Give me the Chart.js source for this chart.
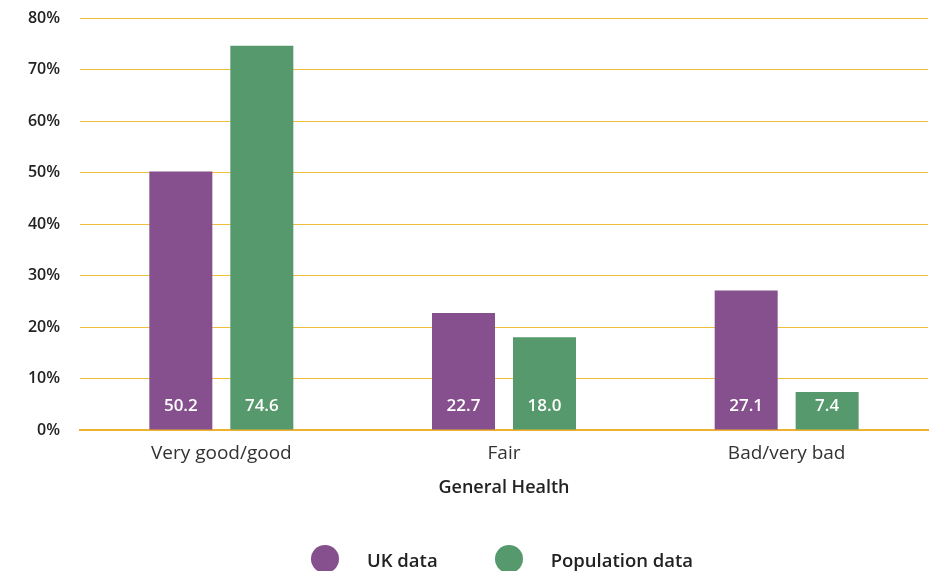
<!DOCTYPE html>
<html>
<head>
  <script src="https://cdn.jsdelivr.net/npm/chart.js"></script>
  <style>
    body { margin: 0; background: #fff; font-family: 'Open Sans', sans-serif; }
    .wrap { position: relative; width: 938px; height: 571px; overflow: hidden; }
    .legend { position: absolute; top: 545px; left: 311px; display: flex; align-items: center; }
    .legend-item { display: flex; align-items: center; font-weight: 600; font-size: 18.5px; color: #222; }
    .dot { width: 28px; height: 28px; border-radius: 50%; margin-right: 28px; }
  </style>
</head>
<body>
  <div class="wrap">
    <canvas id="chart" width="938" height="571"></canvas>
    <div class="legend" id="legend"></div>
  </div>
  <script>
    const categories = ['Very good/good', 'Fair', 'Bad/very bad'];
    const ukData = [50.2, 22.7, 27.1];
    const populationData = [74.6, 18.0, 7.4];
    const seriesNames = ['UK data', 'Population data'];
    const seriesColors = ['#864F8D', '#55996C'];

    // draws the value near the foot of each bar
    const barLabels = {
      id: 'barLabels',
      afterDatasetsDraw(chart) {
        const ctx = chart.ctx;
        ctx.save();
        ctx.fillStyle = '#fff';
        ctx.font = '600 17px "Open Sans"';
        ctx.textAlign = 'center';
        ctx.textBaseline = 'middle';
        chart.data.datasets.forEach((ds, i) => {
          chart.getDatasetMeta(i).data.forEach((bar, j) => {
            ctx.fillText(ds.data[j].toFixed(1), bar.x, bar.base - 23);
          });
        });
        ctx.restore();
      }
    };

    new Chart(document.getElementById('chart'), {
      type: 'bar',
      data: {
        labels: categories,
        datasets: [
          { label: seriesNames[0], data: ukData, backgroundColor: seriesColors[0] },
          { label: seriesNames[1], data: populationData, backgroundColor: seriesColors[1] }
        ]
      },
      options: {
        responsive: false,
        animation: false,
        categoryPercentage: 0.573,
        barPercentage: 0.778,
        layout: { padding: { top: 18, right: 10, bottom: 72, left: 0 } },
        plugins: { legend: { display: false }, tooltip: { enabled: false } },
        scales: {
          x: {
            grid: { display: false, drawTicks: false },
            border: { display: true, color: '#EFB22E', width: 2 },
            ticks: { color: '#333', font: { family: 'Open Sans', size: 19 }, padding: 12 },
            title: {
              display: true, text: 'General Health', color: '#222',
              font: { family: 'Open Sans', size: 18, weight: '600' },
              padding: { top: 0, bottom: 0 }
            },
            afterFit(scale) { scale.height = 69; }
          },
          y: {
            min: 0, max: 80,
            ticks: {
              stepSize: 10, padding: 3, color: '#222',
              font: { family: 'Open Sans', size: 16, weight: '600' },
              callback: v => v + '%'
            },
            grid: { drawTicks: true, tickLength: 17, tickColor: 'rgba(0,0,0,0)', color: '#F0BE3C', lineWidth: 1 },
            border: { display: false },
            afterFit(scale) { scale.width = 80; }
          }
        }
      },
      plugins: [barLabels]
    });

    const legend = document.getElementById('legend');
    seriesNames.forEach((name, i) => {
      const item = document.createElement('div');
      item.className = 'legend-item';
      item.style.marginRight = i === 0 ? '57px' : '0';
      const dot = document.createElement('div');
      dot.className = 'dot';
      dot.style.backgroundColor = seriesColors[i];
      const txt = document.createElement('span');
      txt.textContent = name;
      item.appendChild(dot);
      item.appendChild(txt);
      legend.appendChild(item);
    });
  </script>
</body>
</html>
